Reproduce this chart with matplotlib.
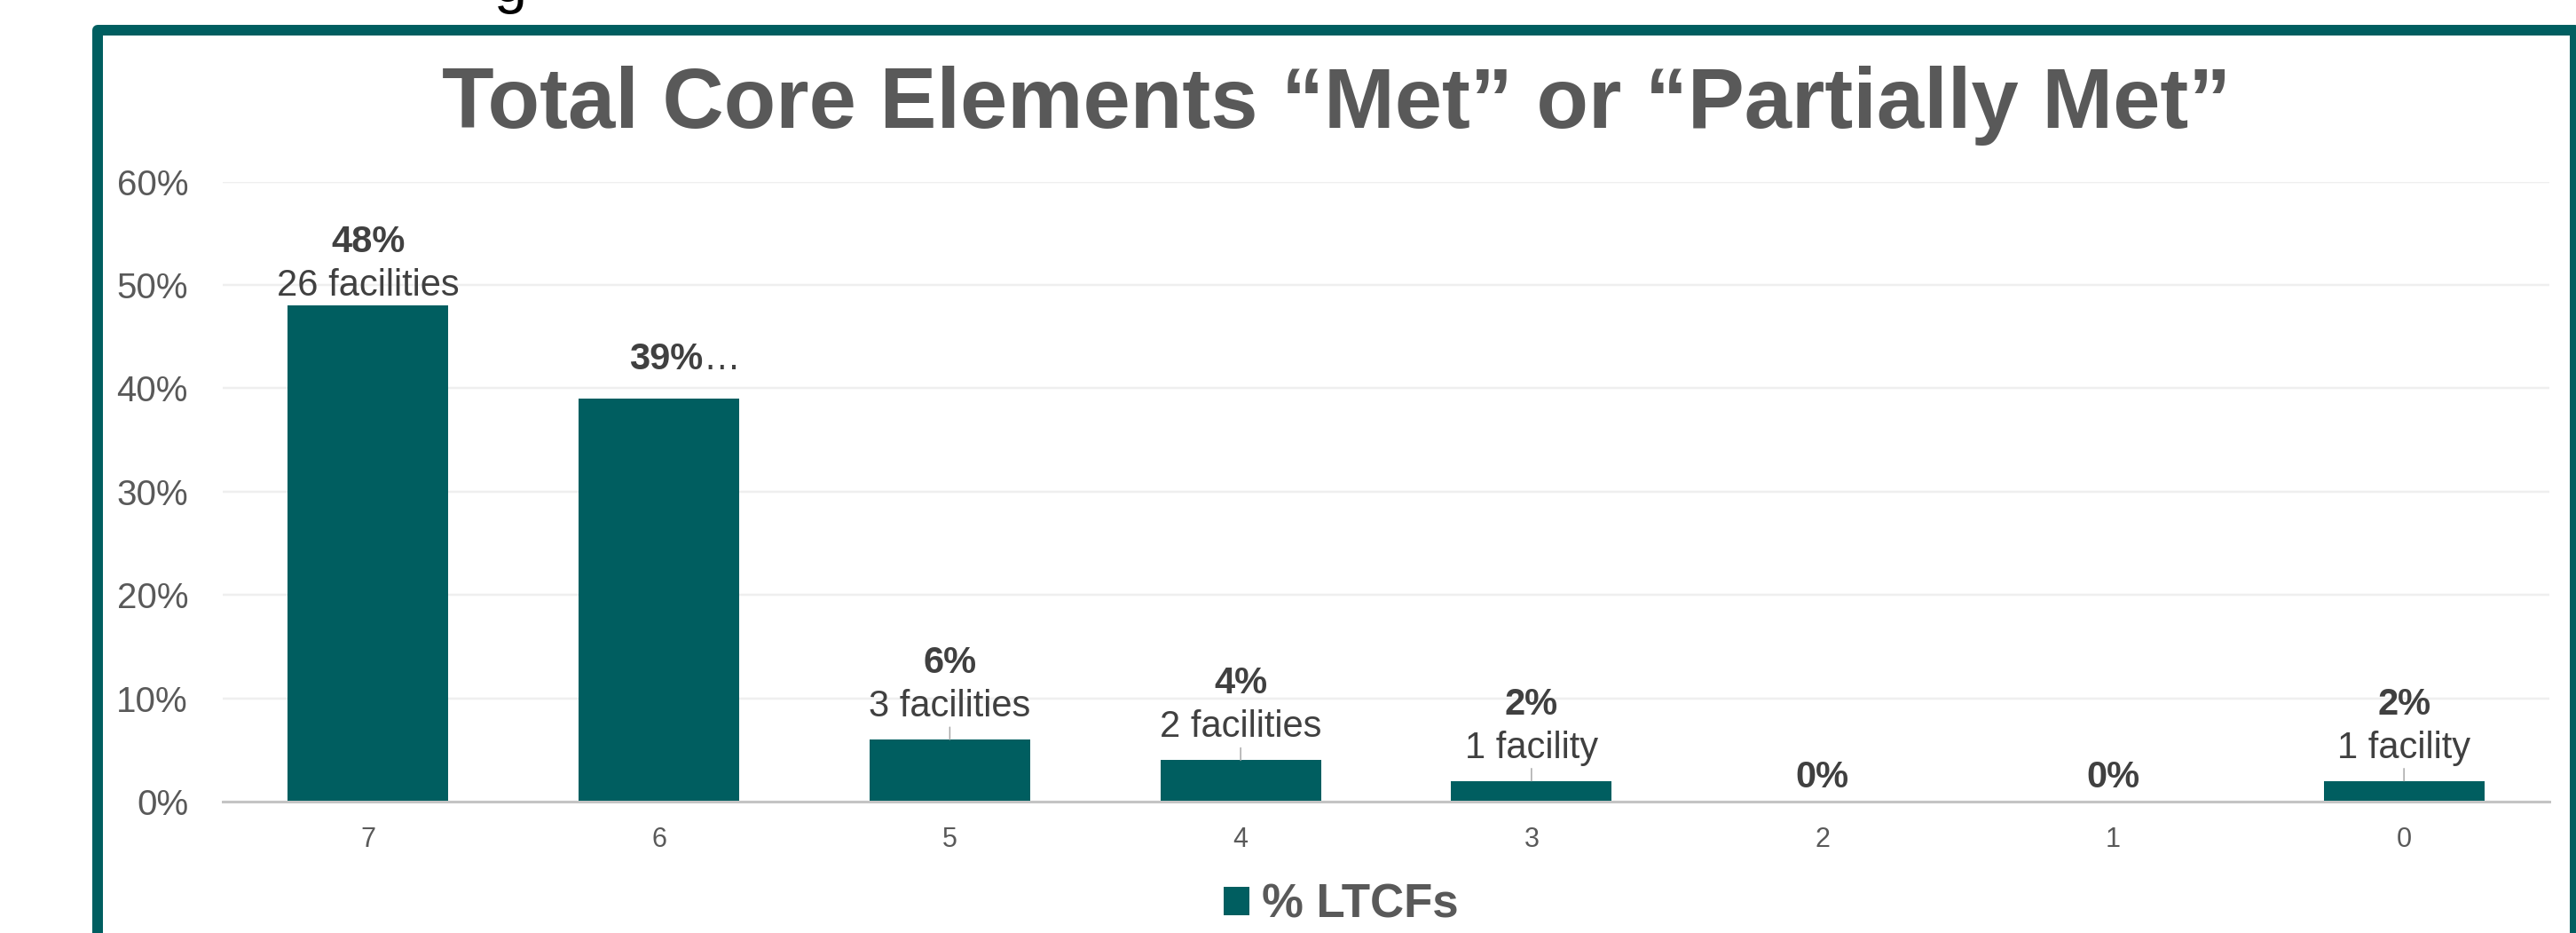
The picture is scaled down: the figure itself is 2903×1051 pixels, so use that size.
import matplotlib
matplotlib.use("Agg")
import matplotlib.pyplot as plt
from matplotlib.patches import Rectangle, Patch
from matplotlib.ticker import PercentFormatter

plt.rcParams['font.family'] = ['Liberation Sans', 'DejaVu Sans']

# data
categories = ['7', '6', '5', '4', '3', '2', '1', '0']
pct = [48, 39, 6, 4, 2, 0, 0, 2]
facility_labels = ['26 facilities', '', '3 facilities', '2 facilities',
                   '1 facility', '', '', '1 facility']
title = 'Total Core Elements \u201cMet\u201d or \u201cPartially Met\u201d'
series_name = '% LTCFs'

teal = '#005E60'
gray_txt = '#595959'
dark_txt = '#404040'

W, H = 2903, 1051
fig = plt.figure(figsize=(W / 100, H / 100), dpi=100)

def px(v):
    # pixels -> points at 100 dpi
    return v * 0.72

# bit of slide text cut off by the top edge
fig.text(575 / W, 1 - 2 / H, 'g', ha='center', va='baseline', fontsize=48,
         color='black')

# outer teal frame (runs off the right/bottom of the picture)
frame = Rectangle((110 / W, -0.2), (2902 - 110) / W, 0.2 + 1 - 34 / H,
                  transform=fig.transFigure, fill=False, edgecolor=teal,
                  linewidth=px(12), joinstyle='round', clip_on=False)
fig.patches.append(frame)

ax = fig.add_axes([251 / W, 1 - 903 / H, (2873 - 251) / W, (903 - 204.5) / H])
x = list(range(len(categories)))
vals = [p / 100 for p in pct]
ax.bar(x, vals, width=0.552, color=teal, zorder=3)

ax.set_xlim(-0.5, len(categories) - 0.5)
ax.set_ylim(0, 0.6)
ax.set_yticks([i / 10 for i in range(7)])
ax.yaxis.set_major_formatter(PercentFormatter(1.0, decimals=0))
ax.set_xticks(x)
ax.set_xticklabels(categories)
ax.tick_params(axis='y', length=0, pad=px(39), labelsize=29, labelcolor=gray_txt)
ax.tick_params(axis='x', length=0, pad=px(28), labelsize=22, labelcolor=gray_txt)
ax.grid(axis='y', color='#efefef', linewidth=px(2.5), zorder=0)
for s in ['top', 'right', 'left']:
    ax.spines[s].set_visible(False)
ax.spines['bottom'].set_color('#c4c4c4')
ax.spines['bottom'].set_linewidth(px(3))
ax.spines['bottom'].set_zorder(4)

# data labels
for i, (v, p, fl) in enumerate(zip(vals, pct, facility_labels)):
    if p == 0:
        ax.annotate(f'{p}%', (i, v), xytext=(0, px(16)), textcoords='offset points',
                    ha='center', va='baseline', fontsize=30, fontweight='bold',
                    color=dark_txt)
    elif fl == '':
        # truncated label
        ax.annotate(f'{p}%', (i, v), xytext=(px(50), px(33)), textcoords='offset points',
                    ha='right', va='baseline', fontsize=30, fontweight='bold',
                    color=dark_txt)
        ax.annotate('\u2026', (i, v), xytext=(px(50), px(33)), textcoords='offset points',
                    ha='left', va='baseline', fontsize=30, color=dark_txt)
    else:
        gap = 11 if p > 20 else 26
        ax.annotate(fl, (i, v), xytext=(0, px(gap)), textcoords='offset points',
                    ha='center', va='baseline', fontsize=30, color=dark_txt)
        ax.annotate(f'{p}%', (i, v), xytext=(0, px(gap + 49)), textcoords='offset points',
                    ha='center', va='baseline', fontsize=30, fontweight='bold',
                    color=dark_txt)
        if p <= 20:
            ax.annotate('', (i, v), xytext=(0, px(14)), textcoords='offset points',
                        arrowprops=dict(arrowstyle='-', color='#a6a6a6',
                                        linewidth=px(1.5), shrinkA=0, shrinkB=0))

fig.text(1506 / W, 1 - 144 / H, title, ha='center', va='baseline',
         fontsize=69, fontweight='bold', color=gray_txt)

fig.legend(handles=[Patch(facecolor=teal, edgecolor='none', label=series_name)],
           loc='center', bbox_to_anchor=(1511 / W, 1 - 1020 / H), frameon=False,
           handlelength=0.55, handleheight=0.55, handletextpad=0.27,
           prop={'size': 38, 'weight': 'bold'}, labelcolor=gray_txt)

fig.savefig('out.png', dpi=100)
